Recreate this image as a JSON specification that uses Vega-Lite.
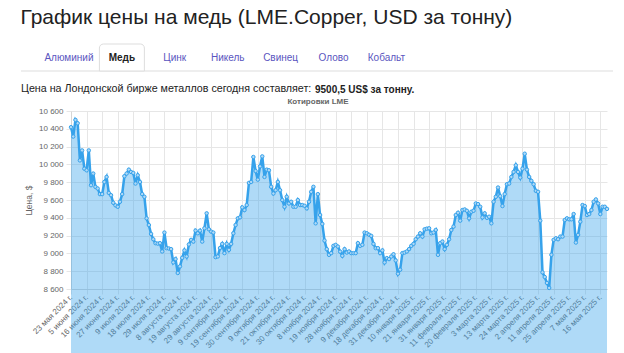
{
  "$schema": "https://vega.github.io/schema/vega-lite/v6.json",
  "background": "white",
  "padding": {"left": 20, "top": 6, "right": 8, "bottom": 0},
  "title": {"text": "График цены на медь (LME.Copper, USD за тонну)", "anchor": "start", "frame": "bounds", "font": "Liberation Sans", "fontSize": 21, "fontWeight": "normal", "color": "#222222", "offset": 16},
  "config": {"view": {"stroke": null}, "font": "Liberation Sans"},
  "datasets": {
    "tabs": [{"t": "Алюминий"}, {"t": "Медь"}, {"t": "Цинк"}, {"t": "Никель"}, {"t": "Свинец"}, {"t": "Олово"}, {"t": "Кобальт"}],
    "line": [{"a": 0, "b": 1}],
    "prices": [
      {"d":"2024-05-23","v":10418},{"d":"2024-05-24","v":10313},{"d":"2024-05-27","v":10500},{"d":"2024-05-28","v":10462},{"d":"2024-05-29","v":10045},{"d":"2024-05-30","v":10157},{"d":"2024-05-31","v":9952},
      {"d":"2024-06-05","v":9934},{"d":"2024-06-06","v":10157},{"d":"2024-06-07","v":9766},{"d":"2024-06-10","v":9897},{"d":"2024-06-11","v":9747},{"d":"2024-06-12","v":9729},{"d":"2024-06-13","v":9666},
      {"d":"2024-06-16","v":9666},{"d":"2024-06-17","v":9803},{"d":"2024-06-18","v":9859},{"d":"2024-06-19","v":9680},{"d":"2024-06-20","v":9654},{"d":"2024-06-21","v":9569},{"d":"2024-06-24","v":9540},
      {"d":"2024-06-27","v":9524},{"d":"2024-06-28","v":9580},{"d":"2024-07-01","v":9666},{"d":"2024-07-02","v":9867},{"d":"2024-07-03","v":9897},{"d":"2024-07-04","v":9941},{"d":"2024-07-05","v":9915},
      {"d":"2024-07-09","v":9904},{"d":"2024-07-10","v":9785},{"d":"2024-07-11","v":9878},{"d":"2024-07-12","v":9803},{"d":"2024-07-15","v":9666},{"d":"2024-07-16","v":9636},{"d":"2024-07-17","v":9394},
      {"d":"2024-07-18","v":9319},{"d":"2024-07-19","v":9219},{"d":"2024-07-22","v":9159},{"d":"2024-07-23","v":9115},{"d":"2024-07-24","v":9110},{"d":"2024-07-25","v":9115},{"d":"2024-07-26","v":9022},
      {"d":"2024-07-29","v":9234},{"d":"2024-07-30","v":9059},{"d":"2024-07-31","v":9055},{"d":"2024-08-01","v":9048},{"d":"2024-08-02","v":8899},{"d":"2024-08-05","v":8936},{"d":"2024-08-06","v":8780},
      {"d":"2024-08-08","v":8854},{"d":"2024-08-09","v":8950},{"d":"2024-08-12","v":9033},{"d":"2024-08-13","v":8966},{"d":"2024-08-14","v":9100},{"d":"2024-08-15","v":9152},{"d":"2024-08-16","v":9133},
      {"d":"2024-08-19","v":9256},{"d":"2024-08-20","v":9226},{"d":"2024-08-21","v":9256},{"d":"2024-08-22","v":9133},{"d":"2024-08-23","v":9282},{"d":"2024-08-26","v":9450},{"d":"2024-08-27","v":9271},
      {"d":"2024-08-29","v":9245},{"d":"2024-08-30","v":9234},{"d":"2024-09-02","v":8958},{"d":"2024-09-03","v":8966},{"d":"2024-09-04","v":9060},{"d":"2024-09-05","v":9107},{"d":"2024-09-06","v":9003},
      {"d":"2024-09-09","v":9107},{"d":"2024-09-10","v":9040},{"d":"2024-09-11","v":9107},{"d":"2024-09-12","v":9226},{"d":"2024-09-13","v":9319},{"d":"2024-09-16","v":9394},{"d":"2024-09-17","v":9405},
      {"d":"2024-09-19","v":9517},{"d":"2024-09-20","v":9487},{"d":"2024-09-23","v":9543},{"d":"2024-09-24","v":9792},{"d":"2024-09-25","v":9803},{"d":"2024-09-26","v":10083},{"d":"2024-09-27","v":9926},
      {"d":"2024-09-30","v":9829},{"d":"2024-10-01","v":9978},{"d":"2024-10-02","v":10090},{"d":"2024-10-03","v":9859},{"d":"2024-10-04","v":9941},{"d":"2024-10-07","v":9934},{"d":"2024-10-08","v":9748},
      {"d":"2024-10-09","v":9673},{"d":"2024-10-10","v":9710},{"d":"2024-10-11","v":9803},{"d":"2024-10-14","v":9710},{"d":"2024-10-15","v":9599},{"d":"2024-10-16","v":9524},{"d":"2024-10-17","v":9636},
      {"d":"2024-10-21","v":9561},{"d":"2024-10-22","v":9580},{"d":"2024-10-23","v":9524},{"d":"2024-10-24","v":9524},{"d":"2024-10-25","v":9599},{"d":"2024-10-28","v":9543},{"d":"2024-10-29","v":9543},
      {"d":"2024-10-30","v":9535},{"d":"2024-10-31","v":9506},{"d":"2024-11-01","v":9580},{"d":"2024-11-04","v":9692},{"d":"2024-11-05","v":9748},{"d":"2024-11-06","v":9338},{"d":"2024-11-07","v":9666},
      {"d":"2024-11-08","v":9431},{"d":"2024-11-11","v":9331},{"d":"2024-11-12","v":9144},{"d":"2024-11-13","v":9048},{"d":"2024-11-14","v":8984},{"d":"2024-11-15","v":9003},{"d":"2024-11-18","v":9085},
      {"d":"2024-11-19","v":9096},{"d":"2024-11-20","v":9077},{"d":"2024-11-21","v":9020},{"d":"2024-11-22","v":8973},{"d":"2024-11-25","v":9048},{"d":"2024-11-26","v":9010},{"d":"2024-11-27","v":9022},
      {"d":"2024-11-28","v":9003},{"d":"2024-11-29","v":9003},{"d":"2024-12-02","v":9003},{"d":"2024-12-03","v":9115},{"d":"2024-12-04","v":9085},{"d":"2024-12-05","v":9096},{"d":"2024-12-06","v":9234},
      {"d":"2024-12-09","v":9226},{"d":"2024-12-10","v":9210},{"d":"2024-12-11","v":9197},{"d":"2024-12-12","v":9107},{"d":"2024-12-13","v":9059},{"d":"2024-12-16","v":9059},{"d":"2024-12-17","v":9003},
      {"d":"2024-12-18","v":9033},{"d":"2024-12-19","v":8899},{"d":"2024-12-20","v":8947},{"d":"2024-12-23","v":8936},{"d":"2024-12-24","v":8965},{"d":"2024-12-27","v":8990},{"d":"2024-12-30","v":8921},
      {"d":"2024-12-31","v":8772},{"d":"2025-01-02","v":8817},{"d":"2025-01-03","v":9003},{"d":"2025-01-06","v":9010},{"d":"2025-01-07","v":9022},{"d":"2025-01-08","v":9048},{"d":"2025-01-09","v":9085},
      {"d":"2025-01-10","v":9107},{"d":"2025-01-13","v":9159},{"d":"2025-01-14","v":9189},{"d":"2025-01-15","v":9226},{"d":"2025-01-16","v":9189},{"d":"2025-01-17","v":9271},{"d":"2025-01-20","v":9278},
      {"d":"2025-01-21","v":9282},{"d":"2025-01-22","v":9226},{"d":"2025-01-23","v":9234},{"d":"2025-01-24","v":9263},{"d":"2025-01-27","v":8984},{"d":"2025-01-28","v":9115},{"d":"2025-01-29","v":9133},
      {"d":"2025-01-31","v":9048},{"d":"2025-02-03","v":9096},{"d":"2025-02-04","v":9159},{"d":"2025-02-05","v":9263},{"d":"2025-02-06","v":9301},{"d":"2025-02-07","v":9431},{"d":"2025-02-10","v":9457},
      {"d":"2025-02-11","v":9368},{"d":"2025-02-12","v":9487},{"d":"2025-02-13","v":9494},{"d":"2025-02-14","v":9479},{"d":"2025-02-17","v":9394},{"d":"2025-02-18","v":9468},{"d":"2025-02-19","v":9479},
      {"d":"2025-02-20","v":9561},{"d":"2025-02-21","v":9554},{"d":"2025-02-24","v":9524},{"d":"2025-02-25","v":9405},{"d":"2025-02-26","v":9450},{"d":"2025-02-27","v":9400},{"d":"2025-02-28","v":9412},
      {"d":"2025-03-03","v":9338},{"d":"2025-03-04","v":9580},{"d":"2025-03-05","v":9636},{"d":"2025-03-06","v":9740},{"d":"2025-03-07","v":9643},{"d":"2025-03-10","v":9532},{"d":"2025-03-11","v":9666},
      {"d":"2025-03-13","v":9777},{"d":"2025-03-14","v":9785},{"d":"2025-03-17","v":9859},{"d":"2025-03-18","v":9915},{"d":"2025-03-19","v":9990},{"d":"2025-03-20","v":9915},{"d":"2025-03-21","v":9852},
      {"d":"2025-03-24","v":9952},{"d":"2025-03-25","v":10120},{"d":"2025-03-26","v":9941},{"d":"2025-03-27","v":9859},{"d":"2025-03-28","v":9815},{"d":"2025-03-31","v":9777},{"d":"2025-04-01","v":9703},
      {"d":"2025-04-02","v":9692},{"d":"2025-04-03","v":9368},{"d":"2025-04-04","v":8787},{"d":"2025-04-07","v":8735},{"d":"2025-04-08","v":8668},{"d":"2025-04-09","v":8612},{"d":"2025-04-10","v":8984},
      {"d":"2025-04-11","v":9152},{"d":"2025-04-14","v":9170},{"d":"2025-04-15","v":9159},{"d":"2025-04-16","v":9189},{"d":"2025-04-17","v":9189},{"d":"2025-04-22","v":9375},{"d":"2025-04-23","v":9394},
      {"d":"2025-04-25","v":9383},{"d":"2025-04-28","v":9383},{"d":"2025-04-29","v":9442},{"d":"2025-04-30","v":9122},{"d":"2025-05-01","v":9208},{"d":"2025-05-02","v":9357},{"d":"2025-05-06","v":9543},
      {"d":"2025-05-07","v":9532},{"d":"2025-05-08","v":9431},{"d":"2025-05-09","v":9442},{"d":"2025-05-12","v":9487},{"d":"2025-05-13","v":9580},{"d":"2025-05-14","v":9606},{"d":"2025-05-15","v":9561},
      {"d":"2025-05-16","v":9442},{"d":"2025-05-19","v":9524},{"d":"2025-05-20","v":9524},{"d":"2025-05-21","v":9500}
    ]
  },
  "concat": [
    {
      "concat": [
        {
          "width": 542,
          "height": 27,
          "resolve": {"scale": {"x": "independent"}},
          "layer": [
            {"data": {"name": "line"}, "mark": {"type": "rule", "color": "#dddddd", "strokeWidth": 1},
              "encoding": {
                "x": {"field": "a", "type": "quantitative", "scale": {"domain": [0, 1], "range": [-50, 542]}, "axis": null},
                "x2": {"field": "b"},
                "y": {"datum": 0, "type": "quantitative", "scale": {"domain": [0, 1]}, "axis": null}
              }},
            {"data": {"name": "tabs"}, "transform": [{"filter": "datum.t === 'Медь'"}], "mark": {"type": "rect", "fill": "white", "stroke": "#dddddd", "strokeWidth": 1, "cornerRadiusTopLeft": 4, "cornerRadiusTopRight": 4},
              "encoding": {"x": {"field": "t", "type": "nominal", "sort": null, "scale": {"type": "band", "domain": ["Алюминий", "Медь", "Цинк", "Никель", "Свинец", "Олово", "Кобальт"], "range": [-24.5, 337.9], "paddingInner": 0.15, "paddingOuter": 0}, "axis": null}}},
            {"data": {"name": "tabs"}, "transform": [{"filter": "datum.t !== 'Медь'"}], "mark": {"type": "text", "font": "Liberation Sans", "fontSize": 10, "color": "#5a55c0"},
              "encoding": {"x": {"field": "t", "type": "nominal", "sort": null, "scale": {"type": "band", "domain": ["Алюминий", "Медь", "Цинк", "Никель", "Свинец", "Олово", "Кобальт"], "range": [-24.5, 337.9], "paddingInner": 0.15, "paddingOuter": 0}, "axis": null}, "text": {"field": "t"}}},
            {"data": {"name": "tabs"}, "transform": [{"filter": "datum.t === 'Медь'"}], "mark": {"type": "text", "font": "Liberation Sans", "fontSize": 10, "fontWeight": "bold", "color": "#222222"},
              "encoding": {"x": {"field": "t", "type": "nominal", "sort": null, "scale": {"type": "band", "domain": ["Алюминий", "Медь", "Цинк", "Никель", "Свинец", "Олово", "Кобальт"], "range": [-24.5, 337.9], "paddingInner": 0.15, "paddingOuter": 0}, "axis": null}, "text": {"field": "t"}}}
          ]
        },
        {
          "concat": [
            {"width": 1, "height": 1, "data": {"values": [{}]}, "mark": {"type": "text"}, "encoding": {},
              "title": {"text": "Цена на Лондонской бирже металлов сегодня составляет:", "anchor": "start", "dx": -50, "font": "Liberation Sans", "fontSize": 10.7, "fontWeight": "normal", "color": "#222222", "offset": 0}},
            {"width": 1, "height": 1, "data": {"values": [{}]}, "mark": {"type": "text"}, "encoding": {},
              "title": {"text": "9500,5 US$ за тонну.", "anchor": "start", "dx": -50, "font": "Liberation Sans", "fontSize": 10, "fontWeight": "bold", "color": "#222222", "offset": 0}}
          ],
          "columns": 2,
          "align": "none",
          "spacing": 3
        }
      ],
      "columns": 1,
      "spacing": 10
    },
    {
      "width": 536,
      "height": 178,
      "data": {"name": "prices"},
      "title": {"text": "Котировки LME", "font": "Liberation Sans", "fontSize": 8, "fontWeight": "bold", "color": "#666666", "anchor": "middle", "frame": "bounds", "offset": 1},
      "encoding": {
        "x": {"field": "d", "type": "ordinal", "sort": null, "scale": {"type": "point", "padding": 0},
          "axis": {
            "title": null,
            "values": ["2024-05-23","2024-06-05","2024-06-16","2024-06-27","2024-07-09","2024-07-18","2024-07-29","2024-08-08","2024-08-19","2024-08-29","2024-09-09","2024-09-19","2024-09-30","2024-10-09","2024-10-21","2024-10-30","2024-11-08","2024-11-19","2024-11-28","2024-12-09","2024-12-18","2024-12-31","2025-01-10","2025-01-21","2025-01-31","2025-02-11","2025-02-20","2025-03-03","2025-03-13","2025-03-24","2025-04-02","2025-04-11","2025-04-25","2025-05-07","2025-05-16"],
            "labelExpr": "utcdate(toDate(datum.value)) + ' ' + ['января','февраля','марта','апреля','мая','июня','июля','августа','сентября','октября','ноября','декабря'][utcmonth(toDate(datum.value))] + ' ' + utcyear(toDate(datum.value)) + ' г.'",
            "labelAngle": -45, "labelAlign": "right", "labelBaseline": "middle", "labelFontSize": 8, "labelColor": "#666666", "labelPadding": 2,
            "labelOverlap": false, "labelBound": false, "labelFlush": false,
            "grid": true, "gridColor": "#e6e6e6", "ticks": true, "tickColor": "#e6e6e6", "tickSize": 5, "domainColor": "#d6d6d6"
          }
        },
        "y": {"field": "v", "type": "quantitative", "scale": {"domain": [8600, 10600], "zero": false, "nice": false},
          "axis": {
            "title": "Цена, $", "titleFontSize": 8.5, "titleFontWeight": "normal", "titleColor": "#666666", "titlePadding": 5.5,
            "values": [8600, 8800, 9000, 9200, 9400, 9600, 9800, 10000, 10200, 10400, 10600],
            "labelExpr": "replace(format(datum.value, ','), ',', ' ')",
            "labelFontSize": 8, "labelColor": "#666666", "labelPadding": 3,
            "gridColor": "#e6e6e6", "tickColor": "#e6e6e6", "tickSize": 5, "domainColor": "#d6d6d6"
          }
        }
      },
      "layer": [
        {"mark": {"type": "area", "color": "#36A2EB", "opacity": 0.4}},
        {"mark": {"type": "line", "color": "#36A2EB", "strokeWidth": 2.5}},
        {"mark": {"type": "point", "filled": true, "size": 12, "fill": "#afd9f7", "stroke": "#36A2EB", "strokeWidth": 1, "opacity": 1}}
      ]
    }
  ],
  "columns": 1,
  "spacing": -8
}
